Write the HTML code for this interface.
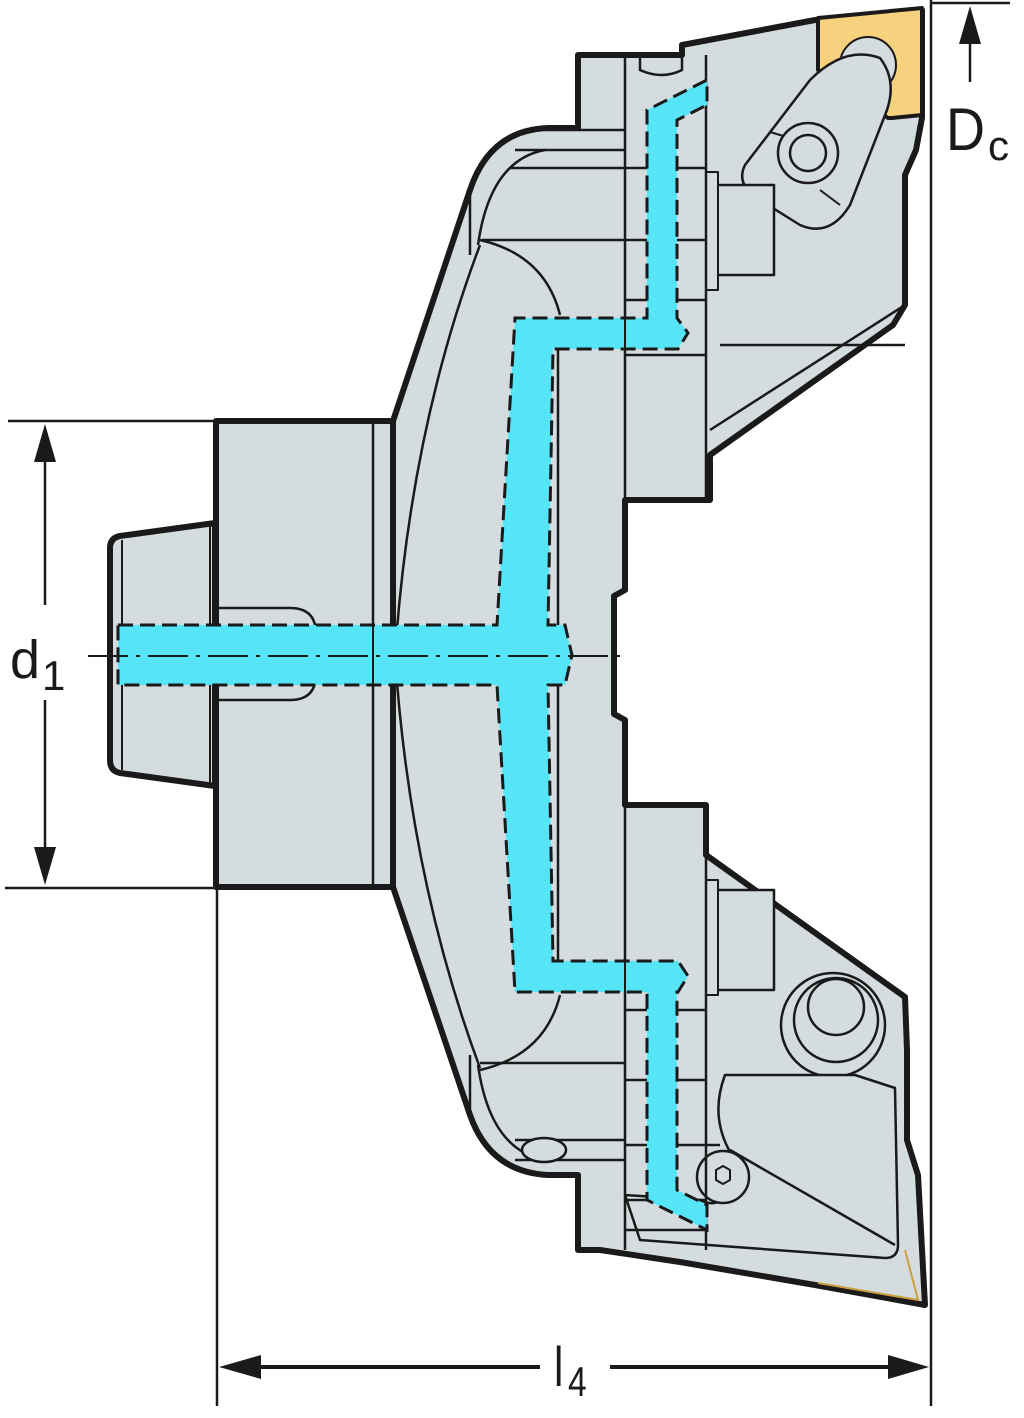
<!DOCTYPE html>
<html><head><meta charset="utf-8"><style>
html,body{margin:0;padding:0;background:#fff;}
svg{display:block;}
text{font-family:"Liberation Sans",sans-serif;fill:#1a1a1a;}
</style></head><body>
<svg width="1024" height="1418" viewBox="0 0 1024 1418" xmlns="http://www.w3.org/2000/svg">
<g stroke="#1a1a1a" fill="#d5dcdf" stroke-linejoin="round">
<!-- shank -->
<path d="M120,536 L215,523 L215,786 L120,773 Q110,771 110,760 L110,548 Q110,538 120,536 Z" stroke-width="6"/>
<line x1="122" y1="540" x2="122" y2="770" stroke-width="2"/>
<line x1="210" y1="525" x2="210" y2="784" stroke-width="2"/>
<!-- flange -->
<rect x="216" y="421" width="177" height="466" stroke-width="6"/>
<!-- main body -->
<path d="M393,421 L470,190 Q490,130 548,128 L578,128 L578,55 L682,55 L682,45 L815,20 L922,10 L922,118 L916,150 L905,175 L905,305 L893,325 L710,455 L710,500 L625,500 L625,590 L614,596 L614,714 L625,720 L625,805 L706,805 L706,855 L905,997 L907,1050 L907,1140 L918,1175 L925,1305 L815,1285 L680,1262 L600,1250 L578,1250 L578,1175 L548,1175 Q490,1172 470,1115 L393,887 Z" stroke-width="6"/>
<!-- insert top -->
<path d="M818,18 L922,8 L922,115 L892,118 L888,118 L818,70 Z" fill="#f7d27e" stroke-width="4"/>
<circle cx="868" cy="65" r="28" fill="#d5dcdf" stroke-width="2"/>
<!-- clamp top -->
<path d="M745,165 L810,80 Q845,45 880,58 Q897,80 887,110 L850,205 Q830,238 800,225 L760,200 Q735,185 745,165 Z" stroke-width="2.5"/>
<line x1="770" y1="132" x2="790" y2="138" stroke-width="2"/>
<line x1="820" y1="190" x2="840" y2="205" stroke-width="2"/>
<circle cx="808" cy="153" r="30" stroke-width="2.5"/>
<circle cx="808" cy="153" r="18" stroke-width="2.5"/>
<rect x="716" y="185" width="58" height="90" stroke-width="2.5"/>
<rect x="706" y="172" width="12" height="118" stroke-width="2"/>
<!-- lower clamp screw -->
<circle cx="833" cy="1025" r="52" stroke-width="2.5"/>
<circle cx="836" cy="1020" r="42" stroke-width="2.5"/>
<circle cx="836" cy="1007" r="28" stroke-width="2.5"/>
<rect x="716" y="890" width="58" height="100" stroke-width="2.5"/>
<rect x="706" y="880" width="12" height="115" stroke-width="2"/>
<!-- lower wedge -->
<path d="M725,1075 L855,1075 L895,1088 L898,1245 Q898,1258 885,1258 L640,1240 L625,1195 L700,1200 Q730,1215 735,1160 Q708,1120 725,1075 Z" stroke-width="2.5"/>
<line x1="730" y1="1150" x2="895" y2="1245" stroke-width="2.5"/>
<circle cx="723" cy="1177" r="26" stroke-width="2.5"/>
<polygon points="716,1170 723,1166 730,1170 730,1180 723,1184 716,1180" stroke-width="2"/>
<path d="M905,1250 L918,1300 L818,1283" fill="none" stroke="#c9a040" stroke-width="2"/>
</g>
<!-- interior lines -->
<g stroke="#1a1a1a" stroke-width="2.5" fill="none">
<line x1="625" y1="55" x2="625" y2="500"/>
<line x1="706" y1="55" x2="706" y2="500"/>
<line x1="625" y1="805" x2="625" y2="1250"/>
<line x1="706" y1="855" x2="706" y2="1250"/>
<line x1="545" y1="130" x2="625" y2="130"/>
<line x1="515" y1="150" x2="625" y2="150"/>
<line x1="510" y1="168" x2="706" y2="168"/>
<line x1="482" y1="240" x2="706" y2="240"/>
<line x1="625" y1="300" x2="706" y2="300"/>
<line x1="625" y1="355" x2="706" y2="355"/>
<line x1="720" y1="345" x2="905" y2="345"/>
<line x1="710" y1="430" x2="905" y2="305"/>
<line x1="625" y1="1230" x2="706" y2="1230"/>
<line x1="625" y1="1200" x2="706" y2="1200"/>
<line x1="625" y1="1145" x2="720" y2="1145"/>
<line x1="480" y1="1063" x2="625" y2="1063"/>
<line x1="515" y1="1140" x2="625" y2="1140"/>
<line x1="515" y1="1160" x2="625" y2="1160"/>
<line x1="625" y1="1080" x2="706" y2="1080"/>
<line x1="625" y1="1010" x2="706" y2="1010"/>
<path d="M470,190 L470,255 M470,1055 L470,1120"/>
<path d="M478,245 Q490,160 545,150"/>
<path d="M478,1065 Q490,1150 545,1160"/>
<path d="M480,240 Q545,255 560,315"/>
<path d="M480,1070 Q545,1055 560,995"/>
<path d="M480,245 Q410,430 395,656 Q410,880 480,1068"/>
<line x1="373" y1="421" x2="373" y2="887"/>
<line x1="558" y1="318" x2="558" y2="992"/>
<path d="M216,608 L290,608 Q316,608 316,634 L316,674 Q316,700 290,700 L216,700"/>
<ellipse cx="544" cy="1150" rx="22" ry="12" fill="#d5dcdf"/>
<path d="M640,55 L640,70 Q662,80 682,70 L682,55"/>
</g>
<!-- coolant -->
<path d="M118,625 L497,625 L515,318 L647,318 L647,110 L707,80 L707,105 L677,120 L677,318 L688,333 L678,349 L553,349 L548,625 L565,625 L572,655 L565,685 L548,685 L553,961 L678,961 L688,976 L678,992 L677,992 L677,1190 L707,1205 L707,1230 L647,1200 L647,992 L515,992 L497,685 L118,685 Z" fill="#55e5f7" stroke="#1a1a1a" stroke-width="3" stroke-dasharray="15,7"/>
<g stroke="#1a1a1a" stroke-width="2" fill="none">
<line x1="373" y1="625" x2="373" y2="685"/>
<line x1="625" y1="318" x2="625" y2="349"/><line x1="625" y1="961" x2="625" y2="992"/>
<line x1="88" y1="656" x2="625" y2="656" stroke-dasharray="40,8,4,8"/>
</g>
<!-- dimensions -->
<g stroke="#1a1a1a" stroke-width="2.5" fill="#1a1a1a">
<line x1="8" y1="421" x2="216" y2="421"/>
<line x1="5" y1="888" x2="216" y2="888"/>
<line x1="217" y1="888" x2="217" y2="1406"/>
<line x1="931" y1="0" x2="931" y2="1406"/>
<line x1="931" y1="3" x2="1010" y2="3"/>
<line x1="45" y1="450" x2="45" y2="605"/>
<line x1="45" y1="700" x2="45" y2="860"/>
<polygon points="45,424 34,462 56,462" stroke="none"/>
<polygon points="45,885 34,847 56,847" stroke="none"/>
<line x1="970" y1="30" x2="970" y2="82"/>
<polygon points="970,6 959,44 981,44" stroke="none"/>
<line x1="250" y1="1367" x2="540" y2="1367" stroke-width="4"/>
<line x1="610" y1="1367" x2="900" y2="1367" stroke-width="4"/>
<polygon points="219,1367 261,1355 261,1379" stroke="none"/>
<polygon points="929,1367 888,1355 888,1379" stroke="none"/>
</g>
<text x="10" y="678" font-size="54">d</text>
<text x="42" y="690" font-size="42">1</text>
<text x="946" y="150" font-size="60" transform="translate(946,0) scale(0.9,1) translate(-946,0)">D</text>
<text x="988" y="160" font-size="42">c</text>
<text x="554" y="1386" font-size="56" transform="translate(554,0) scale(0.75,1) translate(-554,0)">l</text>
<text x="568" y="1396" font-size="42" transform="translate(568,0) scale(0.8,1) translate(-568,0)">4</text>
</svg>
</body></html>
